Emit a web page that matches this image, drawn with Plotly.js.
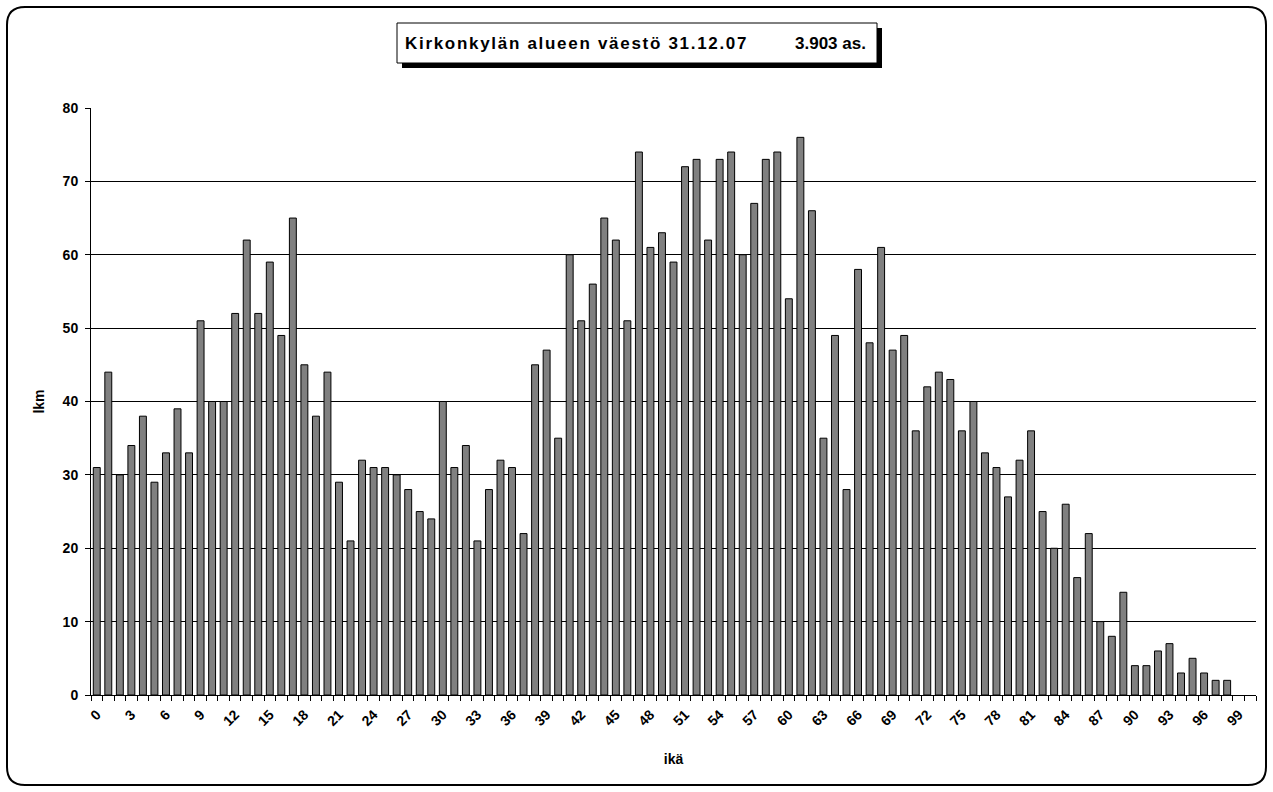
<!DOCTYPE html>
<html>
<head>
<meta charset="utf-8">
<script src="https://cdn.plot.ly/plotly-3.0.1.min.js"></script>
<style>
  html, body { margin: 0; padding: 0; background: #ffffff; }
  #chart { width: 1273px; height: 792px; }
</style>
</head>
<body>
<div id="chart"></div>
<script>
// ---- DATA ----
const ages = [0,1,2,3,4,5,6,7,8,9,
  10,11,12,13,14,15,16,17,18,19,
  20,21,22,23,24,25,26,27,28,29,
  30,31,32,33,34,35,36,37,38,39,
  40,41,42,43,44,45,46,47,48,49,
  50,51,52,53,54,55,56,57,58,59,
  60,61,62,63,64,65,66,67,68,69,
  70,71,72,73,74,75,76,77,78,79,
  80,81,82,83,84,85,86,87,88,89,
  90,91,92,93,94,95,96,97,98];
const counts = [31,44,30,34,38,29,33,39,33,51,
  40,40,52,62,52,59,49,65,45,38,
  44,29,21,32,31,31,30,28,25,24,
  40,31,34,21,28,32,31,22,45,47,
  35,60,51,56,65,62,51,74,61,63,
  59,72,73,62,73,74,60,67,73,74,
  54,76,66,35,49,28,58,48,61,47,
  49,36,42,44,43,36,40,33,31,27,
  32,36,25,20,26,16,22,10,8,14,
  4,4,6,7,3,5,3,2,2];
const tickAges = [0,3,6,9,12,15,18,21,24,27,30,33,36,39,42,45,48,51,54,57,60,63,66,69,72,75,78,81,84,87,90,93,96,99];
const tickLabels = ["0","3","6","9","12","15","18","21","24","27","30","33","36","39","42","45","48","51","54","57","60","63","66","69","72","75","78","81","84","87","90","93","96","99"];
const titleLeft = "Kirkonkylän alueen väestö 31.12.07";
const titleRight = "3.903 as.";
const xTitle = "ikä";
const yTitle = "lkm";

// ---- LAYOUT HELPERS (pixel -> paper) ----
const W = 1273, H = 792;
const M = {l: 91, r: 17, t: 108, b: 97};
const PW = W - M.l - M.r, PH = H - M.t - M.b;
const px = v => (v - M.l) / PW;
const py = v => (H - M.b - v) / PH;

function roundRect(x0, y0, x1, y1, r) {
  const X0 = px(x0), X1 = px(x1), Y0 = py(y0), Y1 = py(y1);
  const rx = r / PW, ry = r / PH;
  return `M ${X0 + rx},${Y0} L ${X1 - rx},${Y0} Q ${X1},${Y0} ${X1},${Y0 - ry} ` +
         `L ${X1},${Y1 + ry} Q ${X1},${Y1} ${X1 - rx},${Y1} ` +
         `L ${X0 + rx},${Y1} Q ${X0},${Y1} ${X0},${Y1 + ry} ` +
         `L ${X0},${Y0 - ry} Q ${X0},${Y0} ${X0 + rx},${Y0} Z`;
}

const FONT = "Arial, 'Liberation Sans', Helvetica, sans-serif";

const trace = {
  type: 'bar',
  x: ages,
  y: counts,
  marker: { color: '#808080', line: { color: '#000000', width: 1 } },
  hoverinfo: 'x+y'
};

const layout = {
  width: W, height: H,
  margin: M,
  paper_bgcolor: '#ffffff',
  plot_bgcolor: '#ffffff',
  showlegend: false,
  bargap: 0.4,
  font: { family: FONT, color: '#000000', size: 13 },
  xaxis: {
    type: 'linear',
    range: [-0.5, 100.5],
    tickmode: 'array',
    tickvals: tickAges,
    ticktext: tickLabels,
    tickangle: -45,
    ticks: '',
    ticklabelstandoff: 5,
    tickfont: { family: FONT, size: 14, color: '#000', weight: 'bold' },
    showgrid: false,
    zeroline: false,
    showline: true,
    linecolor: '#000000',
    linewidth: 1,
    minor: { tickmode: 'linear', tick0: 0.5, dtick: 1, ticks: 'outside', ticklen: 5, tickcolor: '#000', tickwidth: 1, showgrid: false },
    title: { text: xTitle, font: { family: FONT, size: 14, color: '#000', weight: 'bold' }, standoff: 26 },
    fixedrange: true
  },
  yaxis: {
    range: [0, 80],
    dtick: 10,
    tick0: 0,
    ticks: 'outside',
    ticklen: 5,
    tickcolor: '#000',
    ticklabelstandoff: 4,
    tickfont: { family: FONT, size: 14, color: '#000', weight: 'bold' },
    showgrid: true,
    gridcolor: '#000000',
    gridwidth: 1,
    zeroline: false,
    showline: true,
    linecolor: '#000000',
    linewidth: 1,
    title: { text: yTitle, font: { family: FONT, size: 14, color: '#000', weight: 'bold' }, standoff: 14 },
    fixedrange: true
  },
  shapes: [
    // outer rounded frame
    { type: 'path', xref: 'paper', yref: 'paper', path: roundRect(7, 7, 1266, 785, 18),
      line: { color: '#000', width: 2 }, fillcolor: 'rgba(0,0,0,0)', layer: 'below' },
    // title box shadow
    { type: 'rect', xref: 'paper', yref: 'paper', x0: px(402), x1: px(882), y0: py(28), y1: py(68),
      fillcolor: '#000', line: { width: 0 }, layer: 'above' },
    // title box
    { type: 'rect', xref: 'paper', yref: 'paper', x0: px(397), x1: px(877), y0: py(23), y1: py(63),
      fillcolor: '#fff', line: { color: '#000', width: 1 }, layer: 'above' }
  ],
  annotations: [
    { xref: 'paper', yref: 'paper', x: px(403), y: py(44), xanchor: 'left', yanchor: 'middle',
      text: titleLeft, showarrow: false, font: { family: FONT, size: 17, color: '#000', weight: 'bold' } },
    { xref: 'paper', yref: 'paper', x: px(868), y: py(44), xanchor: 'right', yanchor: 'middle',
      text: titleRight, showarrow: false, font: { family: FONT, size: 17, color: '#000', weight: 'bold' } }
  ]
};

Plotly.newPlot('chart', [trace], layout, { displayModeBar: false, staticPlot: true }).then(() => {
  const t = document.querySelectorAll('.annotation-text');
  if (t.length) {
    const el = t[0];
    const before = el.getComputedTextLength();
    el.style.letterSpacing = '1.7px';
    const after = el.getComputedTextLength();
    const x0 = parseFloat(el.getAttribute('x') || '0');
    el.setAttribute('x', x0 + (after - before) / 2);
  }
});
</script>
</body>
</html>
